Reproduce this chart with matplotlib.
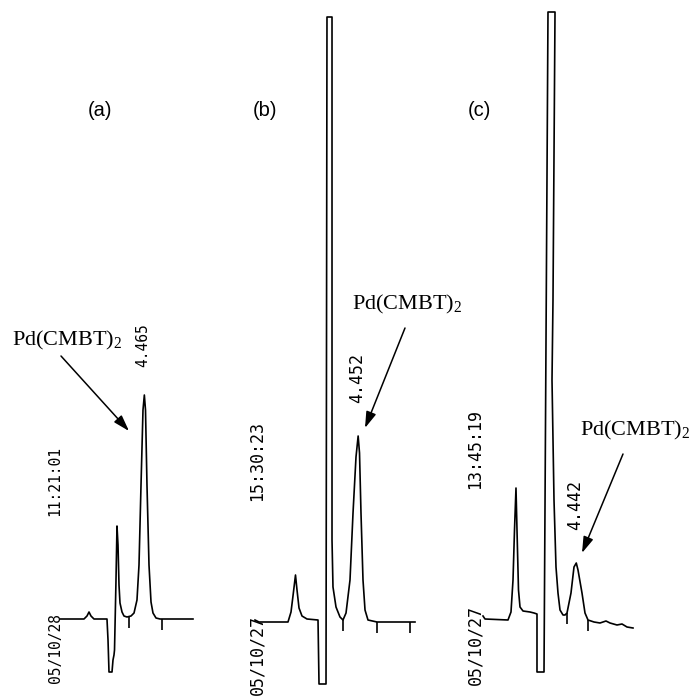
import numpy as np
import matplotlib
matplotlib.use("Agg")
import matplotlib.pyplot as plt

plt.rcParams['mathtext.fontset'] = 'custom'
plt.rcParams['mathtext.rm'] = 'Liberation Serif'

# ---------------- data (time in min, detector signal in arbitrary units) ----------------
a_time = [1.909, 2.636, 2.727, 2.788, 2.848, 2.939, 3.333, 3.364, 3.394, 3.485, 3.515, 3.545,
          3.561, 3.606, 3.636, 3.667, 3.697, 3.727, 3.788, 3.848, 3.939, 4.061, 4.152, 4.242,
          4.303, 4.364, 4.424, 4.465, 4.5, 4.545, 4.606, 4.667, 4.727, 4.818, 4.939, 5.939]
a_signal = [0, 0, 1.5, 3.5, 1.5, 0, 0, -10.5, -26.5, -26.5, -20.5, -18,
            -15.5, 19.5, 46.5, 37, 17, 8, 3.5, 1.5, 1, 1.5, 3, 9.5,
            27, 67, 104.5, 112, 104.5, 67, 27, 8.5, 3, 0.5, 0, 0]

b_time = [1.373, 1.493, 2.358, 2.448, 2.507, 2.582, 2.627, 2.687, 2.776, 2.925, 3.254, 3.284,
          3.493, 3.522, 3.672, 3.672, 3.701, 3.791, 3.910, 4.0, 4.090, 4.209, 4.299, 4.388,
          4.452, 4.493, 4.537, 4.597, 4.657, 4.746, 5.015, 6.149]
b_signal = [1, 0, 0, 5, 13, 23.5, 16, 7, 3, 1.5, 1, -31,
            -31, 302.5, 302.5, 41, 17.5, 7.5, 2.5, 1, 4.5, 21, 54.5, 82.5,
            93, 84.5, 54.5, 21, 6, 1, 0, 0]

c_time = [0.0, 0.095, 1.190, 1.333, 1.429, 1.5, 1.571, 1.619, 1.690, 1.762, 1.905, 2.238,
          2.429, 2.571, 2.571, 2.905, 3.095, 3.429, 3.333, 3.286, 3.381, 3.476, 3.571, 3.667,
          3.810, 3.905, 4.0, 4.190, 4.333, 4.442, 4.524, 4.714, 4.857, 5.0, 5.286, 5.571,
          5.857, 6.048, 6.381, 6.619, 6.857, 7.143]
c_signal = [1.5, 0, -0.5, 3.5, 19.5, 44.5, 65.5, 44.5, 14.5, 6, 4, 3.5,
            3, 2.5, -26.5, -26.5, 303.5, 303.5, 159.5, 119.5, 59.5, 26, 13, 4.5,
            2, 2, 3, 13, 26, 28, 24.5, 13, 3, -0.5, -1.5, -2,
            -1, -2, -3, -2.5, -4, -4.5]

a_ticks = [4, 5]
b_ticks = [4, 5, 6]
c_ticks = [4, 5]

panel_labels = ['(a)', '(b)', '(c)']
retention_labels = ['4.465', '4.452', '4.442']
clock_labels = ['11:21:01', '15:30:23', '13:45:19']
date_labels = ['05/10/28', '05/10/27', '05/10/27']
compound_label = r'Pd(CMBT)$_\mathrm{2}$'

# ---------------- layout ----------------
W, H = 689, 696
fig = plt.figure(figsize=(W / 100, H / 100), dpi=100)


def fx(x):
    return x / W


def fy(y):
    return 1 - y / H


panels = [
    dict(t=a_time, s=a_signal, ticks=a_ticks, x0=-3, ppm=33.0, base=619,
         lab=(100, 111), rt=(143, 345), rt_fs=10.5, clk=(55, 481), dat=(55, 648), ts_fs=10.5,
         cmp=(122, 340, 'right'), arrow=((61, 356), (129, 431))),
    dict(t=b_time, s=b_signal, ticks=b_ticks, x0=209, ppm=33.5, base=622,
         lab=(265, 111), rt=(357, 378), rt_fs=12, clk=(257, 461), dat=(257, 655), ts_fs=12,
         cmp=(352, 304, 'left'), arrow=((405, 328), (365, 428))),
    dict(t=c_time, s=c_signal, ticks=c_ticks, x0=483, ppm=21.0, base=619,
         lab=(479, 111), rt=(575, 505), rt_fs=12, clk=(475, 449), dat=(475, 645), ts_fs=12,
         cmp=(580, 430, 'left'), arrow=((623, 454), (582, 553))),
]

mono = 'DejaVu Sans Mono'

for i, p in enumerate(panels):
    ax = fig.add_axes([0, 0, 1, 1])
    ax.set_xlim((0 - p['x0']) / p['ppm'], (W - p['x0']) / p['ppm'])
    ax.set_ylim((p['base'] - H) / 2.0, p['base'] / 2.0)
    ax.axis('off')
    ax.patch.set_alpha(0)
    t = np.array(p['t'])
    s = np.array(p['s'])
    ax.plot(t, s, color='black', lw=1.2, solid_joinstyle='round')
    m = t >= 3.5
    tops = np.interp(p['ticks'], t[m], s[m])
    ax.vlines(p['ticks'], tops - 5.5, tops, color='black', lw=1.2)

    fig.text(fx(p['lab'][0]), fy(p['lab'][1]), panel_labels[i], ha='center', va='center',
             family='Liberation Sans', fontsize=14.5)
    fig.text(fx(p['rt'][0]), fy(p['rt'][1]), retention_labels[i], ha='center', va='center',
             rotation=90, family=mono, fontsize=p['rt_fs'])
    fig.text(fx(p['clk'][0]), fy(p['clk'][1]), clock_labels[i], ha='center', va='center',
             rotation=90, family=mono, fontsize=p['ts_fs'])
    fig.text(fx(p['dat'][0]), fy(p['dat'][1]), date_labels[i], ha='center', va='center',
             rotation=90, family=mono, fontsize=p['ts_fs'])
    fig.text(fx(p['cmp'][0]), fy(p['cmp'][1]), compound_label, ha=p['cmp'][2], va='center',
             family='Liberation Serif', fontsize=16)
    (sx, sy), (ex, ey) = p['arrow']
    fig.add_artist(matplotlib.patches.FancyArrowPatch(
        (fx(sx), fy(sy)), (fx(ex), fy(ey)), transform=fig.transFigure,
        arrowstyle='-|>,head_length=0.7,head_width=0.22', mutation_scale=14,
        color='black', lw=1.1, shrinkA=0, shrinkB=0))

fig.savefig('out.png', dpi=100)
